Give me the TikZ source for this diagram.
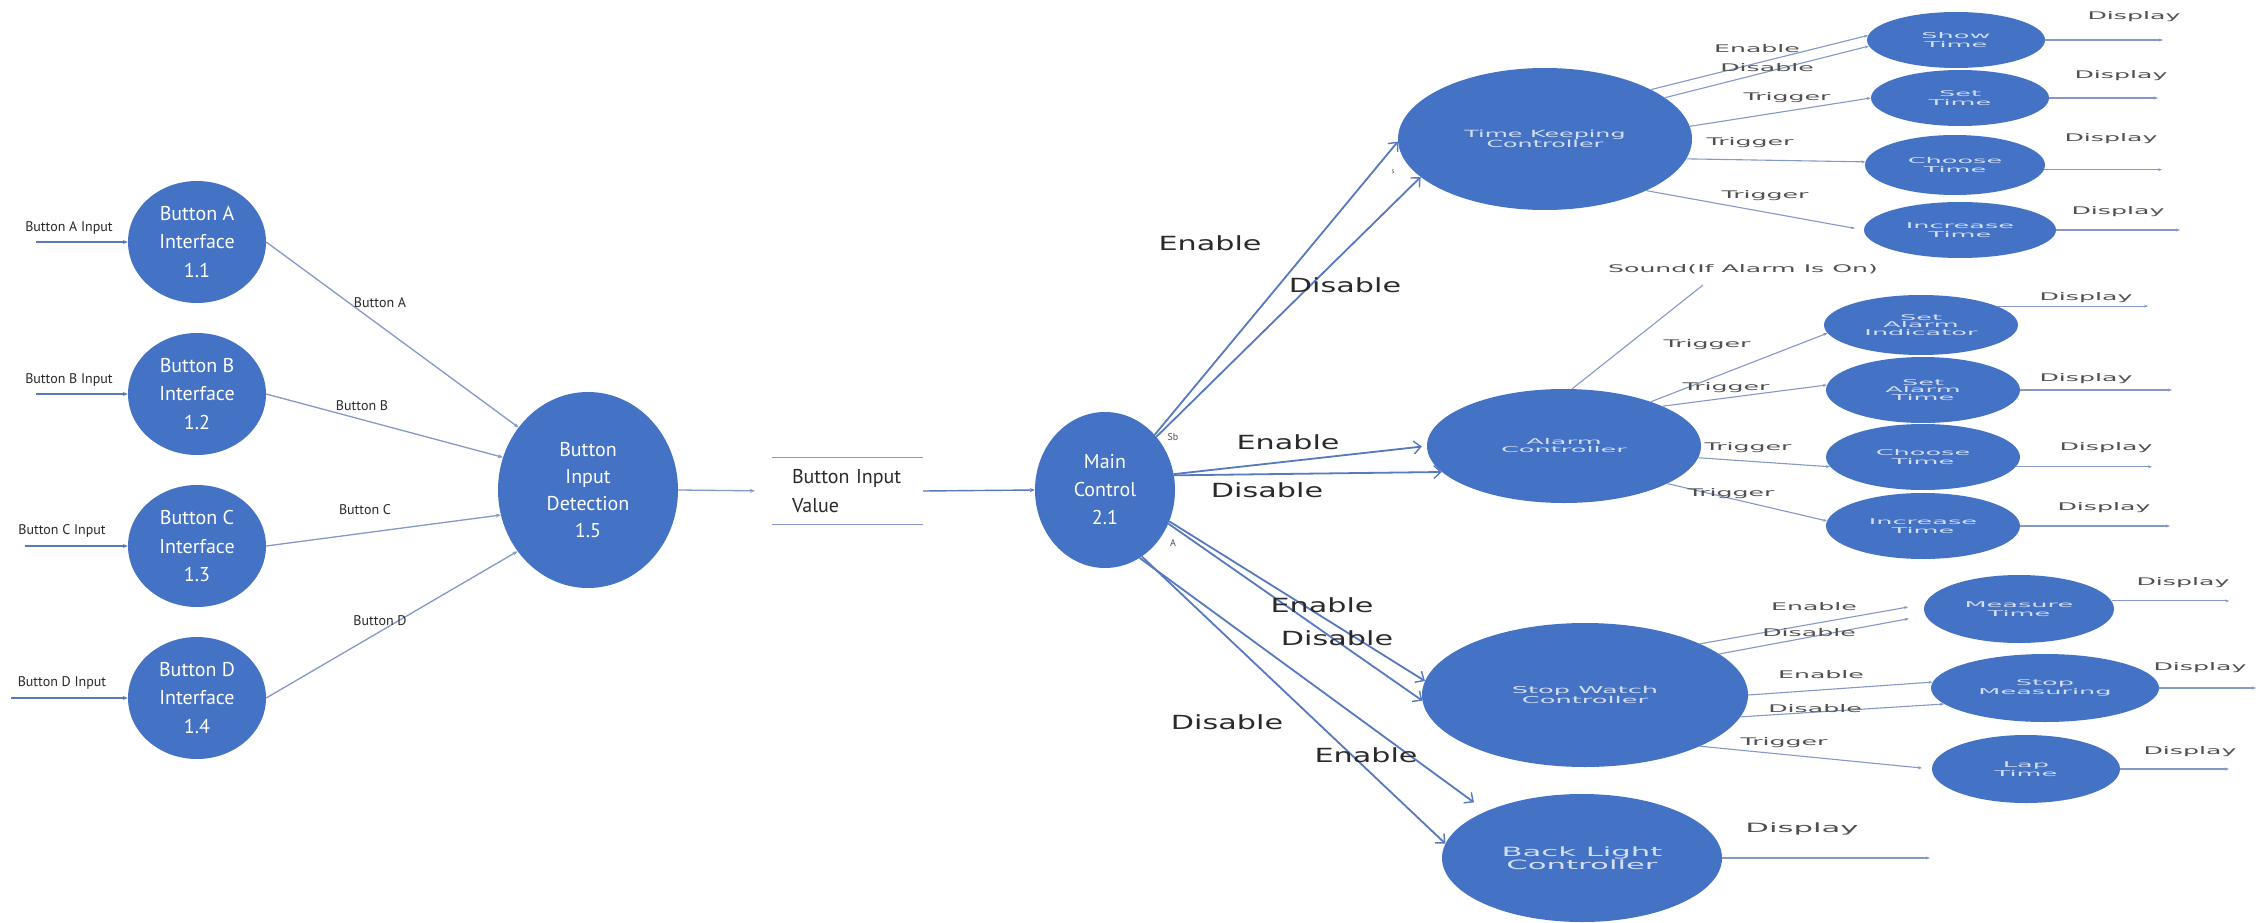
\documentclass[tikz,border=0pt]{standalone}
\usepackage{fontspec}
\setmainfont{PT Sans}
\newfontfamily\pts{PT Sans}
\newfontfamily\wa[FakeStretch=1.55]{DejaVu Sans}
\newfontfamily\wb[FakeStretch=2.4]{DejaVu Sans}
\newfontfamily\wbb[FakeStretch=2.7]{DejaVu Sans}
\newfontfamily\wc[FakeStretch=3.2]{DejaVu Sans}
\usetikzlibrary{shapes.geometric,arrows.meta,calc}

\definecolor{nodeblue}{HTML}{4472C4}
\definecolor{edgeblue}{HTML}{5679BF}
\definecolor{thinblue}{HTML}{8499C8}
\definecolor{lbl}{HTML}{2A2A2A}
\definecolor{lbltwo}{HTML}{505050}
\definecolor{paletext}{HTML}{D3DEF4}

\tikzset{
  bubble/.style={ellipse, fill=nodeblue, inner sep=0pt, align=center},
  lnode/.style={bubble, text=white, font=\pts\fontsize{20}{28.6}\selectfont,
                minimum width=138pt, minimum height=122pt},
  subnode/.style={bubble, text=paletext, font=\wc\fontsize{8}{8.5}\selectfont},
  subthree/.style={bubble, text=paletext, font=\wc\fontsize{8}{7.4}\selectfont},
  inlabel/.style={font=\pts\fontsize{14}{16}\selectfont, text=lbl, inner sep=0pt},
  biglabel/.style={font=\wa\fontsize{19.5}{22}\selectfont, text=lbl, inner sep=0pt},
  smalllabel/.style={font=\wb\fontsize{10.5}{12}\selectfont, text=lbltwo, inner sep=0pt},
  inarrow/.style={draw=edgeblue, line width=1.4pt, -{Stealth[length=5pt,width=4pt]}},
  larrow/.style={draw=thinblue, line width=1.3pt, -{Stealth[length=5pt,width=4pt]}},
  marrow/.style={draw=edgeblue, line width=1.8pt,
                 -{Straight Barb[length=7pt,width=13pt,line width=1.4pt]}},
  sarrow/.style={draw=thinblue, line width=1.1pt, -{Stealth[length=4pt,width=3pt]}},
  sline/.style={draw=thinblue, line width=1.1pt},
  boxline/.style={draw=thinblue, line width=1.3pt},
}

\begin{document}
\begin{tikzpicture}[x=1pt, y=-1pt]
\fill[white] (0,0) rectangle (2259,923);
\useasboundingbox (0,0) rectangle (2259,923);

% ---------- button interfaces ----------
\node[lnode] (bA) at (197,242) {Button A\\Interface\\1.1};
\node[lnode] (bB) at (197,394) {Button B\\Interface\\1.2};
\node[lnode] (bC) at (197,546) {Button C\\Interface\\1.3};
\node[lnode] (bD) at (197,698) {Button D\\Interface\\1.4};

\coordinate (iA) at (36,242);
\coordinate (iB) at (36,394);
\coordinate (iC) at (25,546);
\coordinate (iD) at (11,698);
\draw[inarrow] (iA) -- (bA.west);
\draw[inarrow] (iB) -- (bB.west);
\draw[inarrow] (iC) -- (bC.west);
\draw[inarrow] (iD) -- (bD.west);
\node[inlabel] (tA) at (69,228) {Button A Input};
\node[inlabel] (tB) at (69,380) {Button B Input};
\node[inlabel] (tC) at (62,531) {Button C Input};
\node[inlabel] (tD) at (62,683) {Button D Input};

% ---------- detection ----------
\node[bubble, text=white, font=\pts\fontsize{20}{26.7}\selectfont,
      minimum width=180pt, minimum height=196pt] (det) at (588,490)
      {Button\\Input\\Detection\\1.5};

\draw[larrow] (bA.east) -- (det.138);
\draw[larrow] (bB.east) -- (det.159);
\draw[larrow] (bC.east) -- (det.196);
\draw[larrow] (bD.east) -- (det.221);
\node[inlabel] (lA) at (380,303) {Button A};
\node[inlabel] (lB) at (362,406) {Button B};
\node[inlabel] (lC) at (365,510) {Button C};
\node[inlabel] (lD) at (380,621) {Button D};

% ---------- data store ----------
\node[inner xsep=20pt, inner ysep=0pt, minimum width=151pt, minimum height=66pt,
      text width=111pt, align=left, font=\pts\fontsize{20}{29}\selectfont, text=lbl]
      (biv) at (847.5,491) {Button Input\\Value};
\draw[boxline] (biv.north west) -- (biv.north east);
\draw[boxline] (biv.south west) -- (biv.south east);
\draw[larrow, shorten >=17pt] (det.east) -- (biv.west);

% ---------- main control ----------
\node[bubble, text=white, font=\pts\fontsize{20}{28}\selectfont,
      minimum width=140pt, minimum height=156pt] (mc) at (1105,490)
      {Main\\Control\\2.1};
\draw[inarrow] (biv.east) -- (mc.west);
\node[font=\pts\fontsize{10}{11}\selectfont, text=lbltwo, inner sep=0pt] (sb) at (1173,437) {Sb};
\node[font=\pts\fontsize{10}{11}\selectfont, text=lbltwo, inner sep=0pt] (am) at (1173,543) {A};

% ---------- controllers ----------
\node[bubble, text=paletext, font=\wb\fontsize{9.9}{10}\selectfont,
      minimum width=294pt, minimum height=142pt] (tk) at (1545,139)
      {Time Keeping\\Controller};
\node[bubble, text=paletext, font=\wc\fontsize{8}{8}\selectfont,
      minimum width=274pt, minimum height=114pt] (al) at (1564,446)
      {Alarm\\Controller};
\node[bubble, text=paletext, font=\wbb\fontsize{9.5}{9}\selectfont,
      minimum width=326pt, minimum height=144pt] (sw) at (1585,695)
      {Stop Watch\\Controller};
\node[bubble, text=paletext, font=\wb\fontsize{12.8}{11.7}\selectfont,
      minimum width=280pt, minimum height=128pt] (bl) at (1582,858)
      {Back Light\\Controller};
\node[font=\pts\fontsize{7}{8}\selectfont, text=lbltwo, inner sep=0pt] (tks) at (1393,172) {s};

% main control to controllers
\draw[marrow] (mc.48) -- (tk.181);
\draw[marrow] (mc.46) -- (tk.197);
\draw[marrow, shorten >=5pt] (mc.13) -- (al.180);
\draw[marrow] (mc.12) -- (al.192);
\draw[marrow] (mc.-26) -- (sw.175);
\draw[marrow] (mc.-28) -- (sw.182);
\draw[marrow, shorten >=15pt] (mc.-63) -- (bl.154);
\draw[marrow] (mc.-61) -- (bl.174);

\node[biglabel] (e1) at (1210,243) {Enable};
\node[biglabel] (d1) at (1345,285) {Disable};
\node[biglabel] (e2) at (1288,442) {Enable};
\node[biglabel] (d2) at (1267,490) {Disable};
\node[biglabel] (e3) at (1322,605) {Enable};
\node[biglabel] (d3) at (1337,638) {Disable};
\node[biglabel] (d4) at (1227,722) {Disable};
\node[biglabel] (e4) at (1366,755) {Enable};

% ---------- time keeping functions ----------
\node[subnode, minimum width=178pt, minimum height=56pt] (st) at (1956,40) {Show\\Time};
\node[subnode, minimum width=178pt, minimum height=56pt] (stt) at (1960,98) {Set\\Time};
\node[subnode, minimum width=180pt, minimum height=60pt] (cht) at (1955,165) {Choose\\Time};
\node[subnode, minimum width=192pt, minimum height=56pt] (it) at (1960,230) {Increase\\Time};

\draw[sarrow] (tk.25) -- (st.177);
\draw[sarrow] (tk.19) -- (st.184);
\draw[sarrow] (tk.5) -- (stt.west);
\draw[sarrow] (tk.-8) -- (cht.178);
\draw[sarrow, shorten >=9pt] (tk.-27) -- (it.west);
\node[smalllabel] (tke) at (1757,49) {Enable};
\node[smalllabel] (tkd) at (1767,68) {Disable};
\node[smalllabel] (tkt1) at (1787,98) {Trigger};
\node[smalllabel] (tkt2) at (1750,143) {Trigger};
\node[smalllabel] (tkt3) at (1765,196) {Trigger};

\coordinate (ost) at (2163,41);
\coordinate (ostt) at (2158,98);
\coordinate (ocht) at (2162,163);
\coordinate (oit) at (2180,230);
\draw[sarrow] (st.east) -- (st.east -| ost);
\draw[sarrow] (stt.east) -- (stt.east -| ostt);
\draw[sarrow] (cht.-3) -- (cht.-3 -| ocht);
\draw[sarrow] (it.east) -- (it.east -| oit);
\node[smalllabel] (dst) at (2134,17) {Display};
\node[smalllabel] (dstt) at (2121,76) {Display};
\node[smalllabel] (dcht) at (2111,139) {Display};
\node[smalllabel] (dit) at (2118,212) {Display};

% ---------- alarm functions ----------
\coordinate (snd) at (1703,285);
\draw[sline] (al.82) -- (snd);
\node[smalllabel] (sndt) at (1743,269) {Sound(If Alarm Is On)};

\node[subthree, minimum width=194pt, minimum height=60pt] (sai) at (1921,325) {Set\\Alarm\\Indicator};
\node[subthree, minimum width=194pt, minimum height=66pt] (sat) at (1923,390) {Set\\Alarm\\Time};
\node[subnode, minimum width=194pt, minimum height=66pt] (act) at (1923,457) {Choose\\Time};
\node[subnode, minimum width=194pt, minimum height=66pt] (ait) at (1923,526) {Increase\\Time};

\draw[sarrow] (al.27) -- (sai.185);
\draw[sarrow] (al.22) -- (sat.177);
\draw[sarrow] (al.-5) -- (act.186);
\draw[sarrow] (al.-20) -- (ait.177);
\node[smalllabel] (alt1) at (1707,345) {Trigger};
\node[smalllabel] (alt2) at (1726,388) {Trigger};
\node[smalllabel] (alt3) at (1748,448) {Trigger};
\node[smalllabel] (alt4) at (1731,494) {Trigger};

\coordinate (osai) at (2148,311);
\coordinate (osat) at (2172,389);
\coordinate (oact) at (2152,467);
\coordinate (oait) at (2170,527);
\draw[sarrow] (sai.14) -- (sai.14 -| osai);
\draw[sarrow] (sat.east) -- (sat.east -| osat);
\draw[sarrow] (act.-6) -- (act.-6 -| oact);
\draw[sarrow] (ait.east) -- (ait.east -| oait);
\node[smalllabel] (dsai) at (2086,298) {Display};
\node[smalllabel] (dsat) at (2086,379) {Display};
\node[smalllabel] (dact) at (2106,448) {Display};
\node[smalllabel] (dait) at (2104,508) {Display};

% ---------- stop watch functions ----------
\node[subnode, minimum width=190pt, minimum height=68pt] (mt) at (2019,609) {Measure\\Time};
\node[subnode, minimum width=228pt, minimum height=68pt] (sm) at (2045,688) {Stop\\Measuring};
\node[subnode, minimum width=188pt, minimum height=68pt] (lt) at (2026,769) {Lap\\Time};

\draw[sarrow, shorten >=17pt] (sw.24) -- (mt.177);
\draw[sarrow, shorten >=17pt] (sw.17) -- (mt.184);
\draw[sarrow] (sw.east) -- (sm.177);
\draw[sarrow] (sw.-8) -- (sm.189);
\draw[sarrow, shorten >=10pt] (sw.-24) -- (lt.west);
\node[smalllabel] (swe1) at (1814,607) {Enable};
\node[smalllabel] (swd1) at (1809,633) {Disable};
\node[smalllabel] (swe2) at (1821,675) {Enable};
\node[smalllabel] (swd2) at (1815,709) {Disable};
\node[smalllabel] (swt) at (1784,743) {Trigger};

\coordinate (omt) at (2229,603);
\coordinate (osm) at (2256,687);
\coordinate (olt) at (2229,768);
\draw[sarrow] (mt.5) -- (mt.5 -| omt);
\draw[sarrow] (sm.east) -- (sm.east -| osm);
\draw[sarrow] (lt.east) -- (lt.east -| olt);
\node[smalllabel] (dmt) at (2183,583) {Display};
\node[smalllabel] (dsm) at (2200,668) {Display};
\node[smalllabel] (dlt) at (2190,752) {Display};

% ---------- back light output ----------
\coordinate (obl) at (1930,858);
\draw[sarrow] (bl.east) -- (obl);
\node[font=\wb\fontsize{12.8}{14}\selectfont, text=lbltwo, inner sep=0pt] (dbl) at (1802,829) {Display};

\end{tikzpicture}
\end{document}
